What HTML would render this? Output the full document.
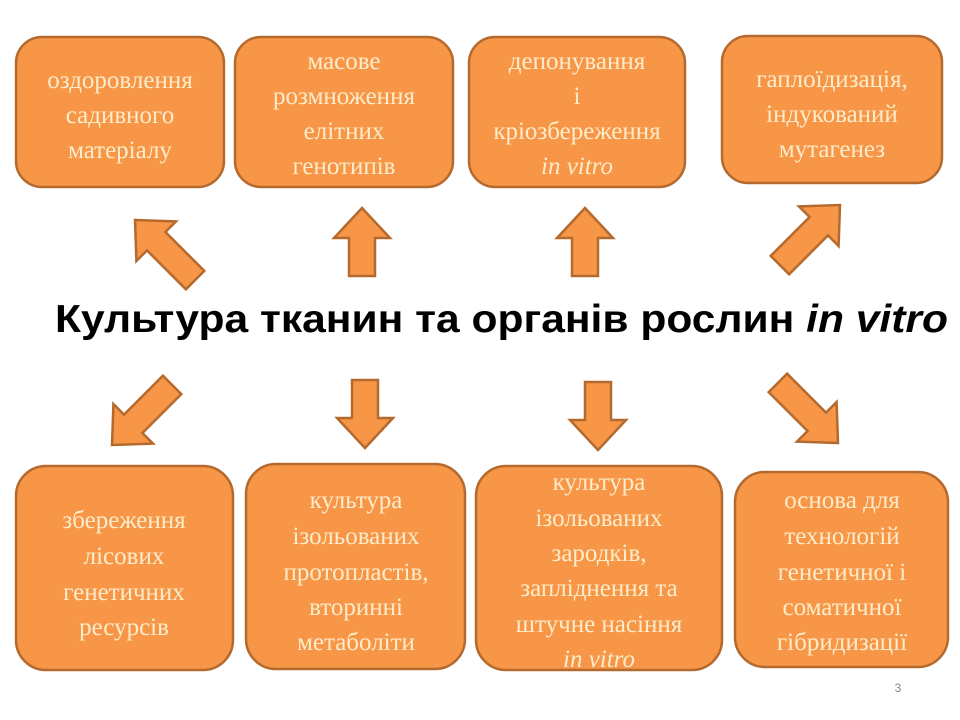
<!DOCTYPE html>
<html><head><meta charset="utf-8"><style>
html,body{margin:0;padding:0;background:#fff;}
svg{display:block;}
.t{font-family:"Liberation Serif","Noto Serif CJK SC","DejaVu Serif",serif;font-size:25px;fill:#fdeccb;text-anchor:middle;}
.i{font-style:italic;}
</style></head><body>
<svg width="960" height="720" viewBox="0 0 960 720" xmlns="http://www.w3.org/2000/svg">
<defs>
<polygon id="ar" points="0,0 28,30 13,30 13,68 -13,68 -13,30 -28,30"/>
<polygon id="ad" points="0,0 28,30 13,30 13,85 -13,85 -13,30 -28,30"/>
</defs>
<g fill="#f79646" stroke="#b46a2f" stroke-width="2.5">
<rect x="16" y="37" width="208" height="150" rx="26"/>
<rect x="235" y="37" width="218" height="150" rx="26"/>
<rect x="469" y="37" width="216" height="150" rx="26"/>
<rect x="722" y="36" width="220" height="147" rx="26"/>
<rect x="16" y="466" width="217" height="204" rx="30"/>
<rect x="246" y="464" width="219" height="205" rx="30"/>
<rect x="476" y="466" width="246" height="204" rx="30"/>
<rect x="735" y="472" width="213" height="195" rx="30"/>
<use href="#ad" transform="translate(135,220) rotate(-45)"/>
<use href="#ar" transform="translate(362,208)"/>
<use href="#ar" transform="translate(585,208)"/>
<use href="#ad" transform="translate(840,205) rotate(45)"/>
<use href="#ad" transform="translate(112,445) rotate(-135)"/>
<use href="#ar" transform="translate(365,448) rotate(180)"/>
<use href="#ar" transform="translate(598,450) rotate(180)"/>
<use href="#ad" transform="translate(838,443) rotate(135)"/>
</g>
<text class="t" x="120" y="88">оздоровлення</text>
<text class="t" x="120" y="123">садивного</text>
<text class="t" x="120" y="158">матеріалу</text>
<text class="t" x="344" y="69">масове</text>
<text class="t" x="344" y="104">розмноження</text>
<text class="t" x="344" y="139">елітних</text>
<text class="t" x="344" y="174">генотипів</text>
<text class="t" x="577" y="69">депонування</text>
<text class="t" x="577" y="104">і</text>
<text class="t" x="577" y="139">кріозбереження</text>
<text class="t i" x="577" y="174">in vitro</text>
<text class="t" x="832" y="87">гаплоїдизація,</text>
<text class="t" x="832" y="122">індукований</text>
<text class="t" x="832" y="157">мутагенез</text>
<text x="55" y="332" textLength="893" lengthAdjust="spacingAndGlyphs" style="font-family:'Liberation Sans',sans-serif;font-size:39px;font-weight:bold;fill:#000">Культура тканин та органів рослин <tspan font-style="italic">in vitro</tspan></text>
<text class="t" x="124" y="528">збереження</text>
<text class="t" x="124" y="564">лісових</text>
<text class="t" x="124" y="600">генетичних</text>
<text class="t" x="124" y="635">ресурсів</text>
<text class="t" x="356" y="508">культура</text>
<text class="t" x="356" y="544">ізольованих</text>
<text class="t" x="356" y="580">протопластів,</text>
<text class="t" x="356" y="615">вторинні</text>
<text class="t" x="356" y="650">метаболіти</text>
<text class="t" x="599" y="490">культура</text>
<text class="t" x="599" y="526">ізольованих</text>
<text class="t" x="599" y="561">зародків,</text>
<text class="t" x="599" y="596">запліднення та</text>
<text class="t" x="599" y="632">штучне насіння</text>
<text class="t i" x="599" y="667">in vitro</text>
<text class="t" x="842" y="508">основа для</text>
<text class="t" x="842" y="544">технологій</text>
<text class="t" x="842" y="580">генетичної і</text>
<text class="t" x="842" y="615">соматичної</text>
<text class="t" x="842" y="650">гібридизації</text>
<text x="898" y="692" style="font-family:'Liberation Sans',sans-serif;font-size:12px;fill:#888;text-anchor:middle">3</text>
</svg>
</body></html>
